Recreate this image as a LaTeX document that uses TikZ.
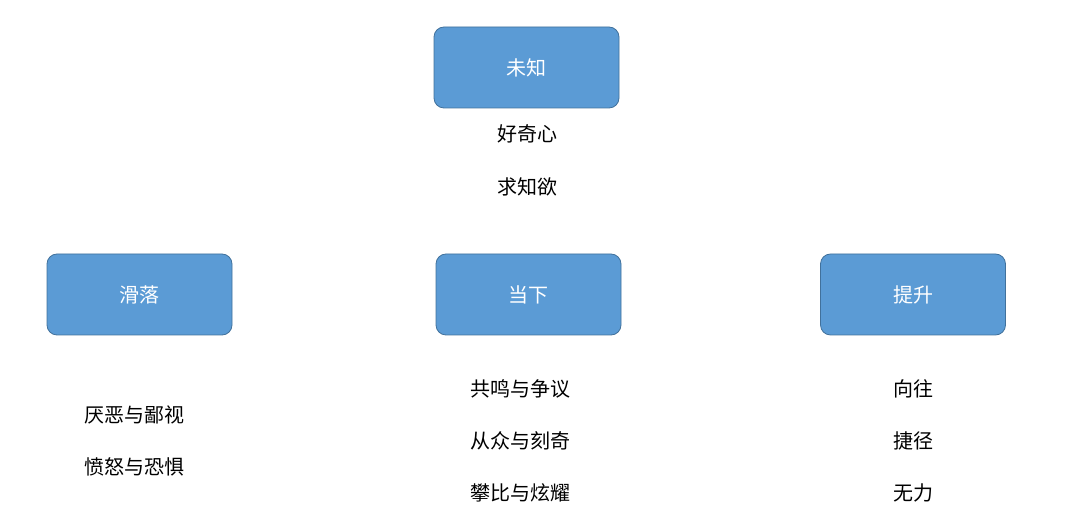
\documentclass[tikz,border=0pt]{standalone}
\usepackage{fontspec}
\newfontfamily\cjk{Noto Sans CJK SC}
\definecolor{boxfill}{HTML}{5B9BD5}
\definecolor{boxline}{HTML}{41719C}
\begin{document}
\begin{tikzpicture}[x=1pt,y=-1pt,
  box/.style={draw=boxline,fill=boxfill,rounded corners=10pt,minimum width=185pt,minimum height=81pt,text=white,font=\cjk\fontsize{20}{24}\selectfont,line width=0.8pt},
  lbl/.style={font=\cjk\fontsize{20}{24}\selectfont,text=black}]
\useasboundingbox (0,0) rectangle (1080,526);
\node[box] (wz) at (526.5,67.5) {未知};
\node[box] (hl) at (139.5,294.5) {滑落};
\node[box] (dx) at (528.5,294.5) {当下};
\node[box] (ts) at (913,294.5) {提升};
\node[lbl] (a1) at (527,134) {好奇心};
\node[lbl] (a2) at (527,187) {求知欲};
\node[lbl] (b1) at (134,415) {厌恶与鄙视};
\node[lbl] (b2) at (134,467) {愤怒与恐惧};
\node[lbl] (c1) at (520,389) {共鸣与争议};
\node[lbl] (c2) at (520,441) {从众与刻奇};
\node[lbl] (c3) at (520,493) {攀比与炫耀};
\node[lbl] (d1) at (913,389) {向往};
\node[lbl] (d2) at (913,441) {捷径};
\node[lbl] (d3) at (913,493) {无力};
\end{tikzpicture}
\end{document}
